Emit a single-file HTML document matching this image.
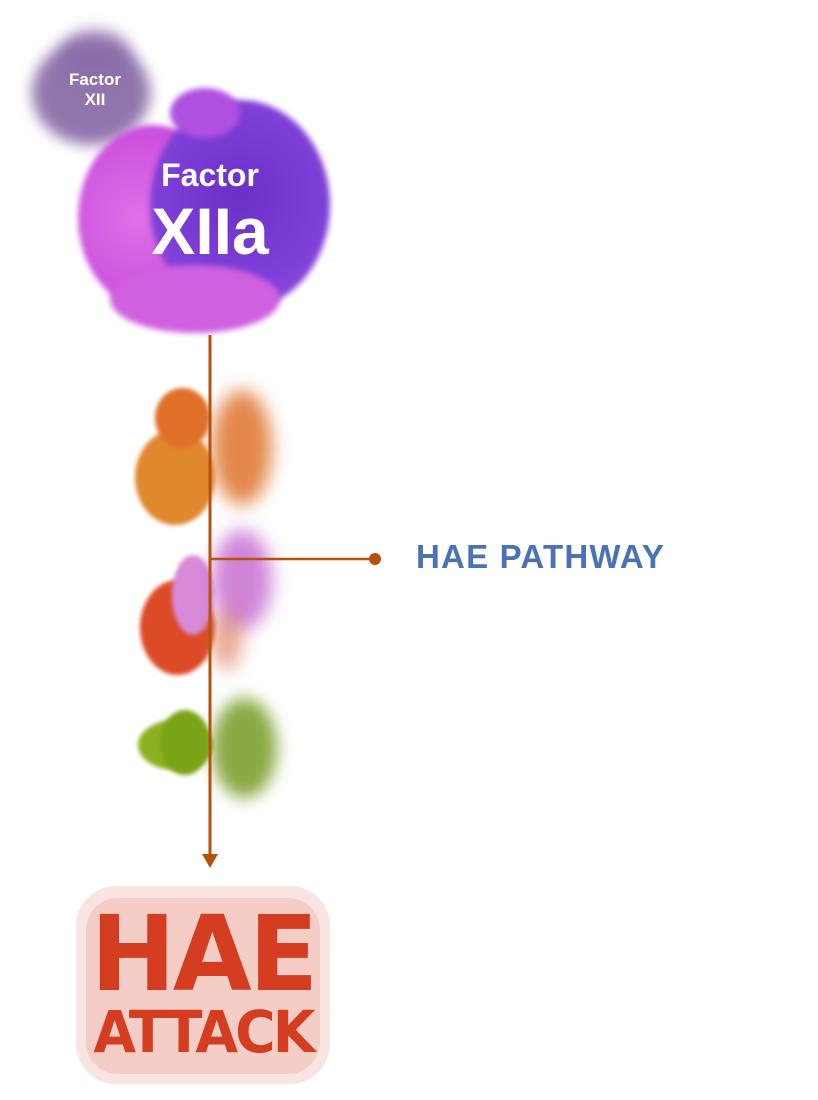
<!DOCTYPE html>
<html><head><meta charset="utf-8"><style>
body{margin:0;width:818px;height:1100px;background:#fff;position:relative;overflow:hidden;font-family:"Liberation Sans",sans-serif}
.a{position:absolute}
.b{position:absolute;border-radius:50%}
</style></head><body>
<!-- Factor XII blurred -->
<div class="b" style="left:32px;top:40px;width:118px;height:105px;background:#7e5e9e;filter:blur(7px);opacity:.85"></div>
<div class="b" style="left:60px;top:30px;width:70px;height:50px;background:#8a6aa8;filter:blur(8px);opacity:.8"></div>
<div class="a" style="left:40px;top:70px;width:110px;text-align:center;color:#fff;font-weight:bold;font-size:17px;line-height:20px">Factor<br>XII</div>
<!-- Factor XIIa -->
<div class="b" style="left:78px;top:125px;width:150px;height:185px;background:radial-gradient(circle at 40% 50%,#e070e8,#c040d8);filter:blur(3px)"></div>
<div class="b" style="left:150px;top:100px;width:180px;height:210px;background:radial-gradient(circle at 50% 45%,#6a30c8,#7f40d8 60%,#9a50e0);filter:blur(3px)"></div>
<div class="b" style="left:170px;top:88px;width:70px;height:50px;background:#b050e0;filter:blur(3px)"></div>
<div class="b" style="left:110px;top:265px;width:170px;height:68px;background:#d060e0;filter:blur(3px)"></div>
<div class="a" style="left:110px;top:157px;width:200px;text-align:center;color:#fff;font-weight:bold;font-size:32px;line-height:36px">Factor</div>
<div class="a" style="left:110px;top:193px;width:200px;text-align:center;color:#fff;font-weight:bold;font-size:66px;line-height:76px">XIIa</div>
<!-- orange -->
<div class="b" style="left:135px;top:430px;width:80px;height:95px;background:#e0882e;filter:blur(2px)"></div>
<div class="b" style="left:155px;top:388px;width:55px;height:60px;background:#e07028;filter:blur(2px)"></div>
<div class="b" style="left:212px;top:390px;width:60px;height:115px;background:#e07a38;filter:blur(9px);opacity:.9"></div>
<!-- pink/red -->
<div class="b" style="left:140px;top:580px;width:75px;height:95px;background:#dc4a28;filter:blur(2px)"></div>
<div class="b" style="left:172px;top:555px;width:42px;height:80px;background:#d88ad8;filter:blur(2px)"></div>
<div class="b" style="left:212px;top:530px;width:60px;height:100px;background:#c870d0;filter:blur(9px);opacity:.85"></div>
<div class="b" style="left:212px;top:610px;width:30px;height:60px;background:#d87048;filter:blur(9px);opacity:.6"></div>
<!-- green -->
<div class="b" style="left:138px;top:720px;width:75px;height:50px;background:#8cb020;filter:blur(2px)"></div>
<div class="b" style="left:160px;top:710px;width:50px;height:65px;background:#7aa418;filter:blur(2px)"></div>
<div class="b" style="left:212px;top:698px;width:65px;height:100px;background:#7ea030;filter:blur(8px);opacity:.9"></div>
<!-- connectors -->
<svg class="a" style="left:0;top:0" width="818" height="1100">
<line x1="210" y1="335" x2="210" y2="856" stroke="#b4520e" stroke-width="3"/>
<polygon points="202,854 218,854 210,868" fill="#b4520e"/>
<line x1="210" y1="559" x2="375" y2="559" stroke="#b4520e" stroke-width="2.5"/>
<circle cx="375" cy="559" r="6" fill="#b4520e"/>
</svg>
<div class="a" style="left:416px;top:537px;color:#4a72b4;font-weight:bold;font-size:33px;line-height:40px;letter-spacing:1.2px">HAE PATHWAY</div>
<!-- HAE ATTACK -->
<div class="a" style="left:76px;top:886px;width:254px;height:198px;background:#f8e4e0;border-radius:40px"></div>
<div class="a" style="left:86px;top:898px;width:234px;height:176px;background:#f3cdc6;border-radius:32px"></div>
<div class="a" style="left:60px;top:898px;width:286px;text-align:center;color:#d43d20;font-weight:900;font-family:'DejaVu Sans','Liberation Sans',sans-serif;font-size:104px;line-height:112px;transform:scaleX(.98);letter-spacing:-3px">HAE</div>
<div class="a" style="left:60px;top:1002px;width:286px;text-align:center;color:#d43d20;font-weight:900;font-family:'DejaVu Sans','Liberation Sans',sans-serif;font-size:58px;line-height:60px;transform:scaleX(.95);letter-spacing:-3px">ATTACK</div>
</body></html>
